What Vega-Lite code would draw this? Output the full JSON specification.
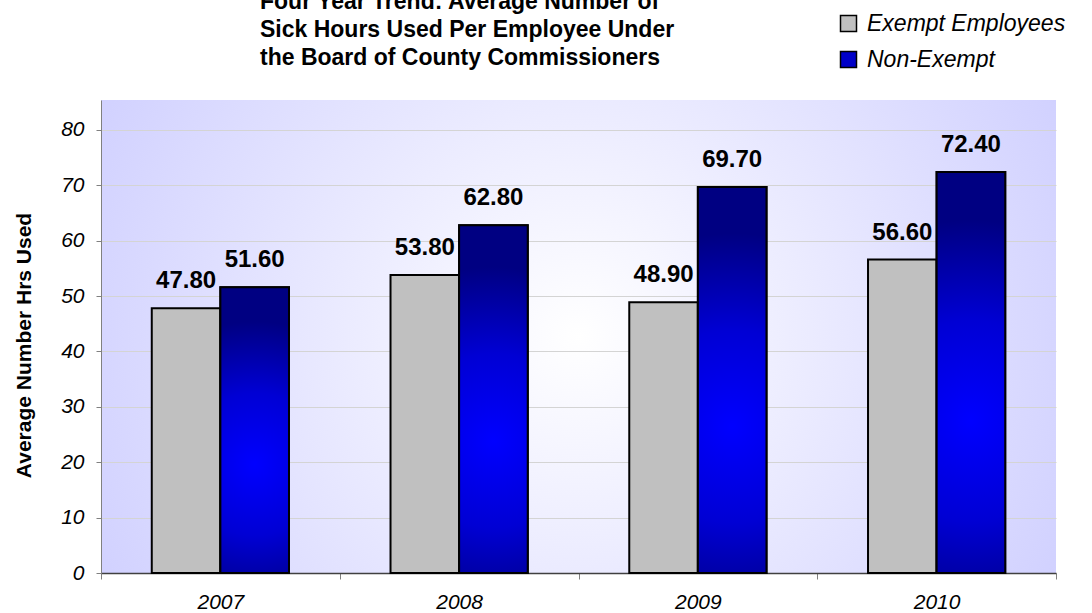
{
  "$schema": "https://vega.github.io/schema/vega-lite/v6.json",
  "width": 955,
  "height": 473,
  "autosize": {"type": "none"},
  "padding": {"top": 100, "left": 101, "right": 36, "bottom": 40},
  "background": "white",
  "title": {
    "text": ["Four Year Trend: Average Number of", "Sick Hours Used Per Employee Under", "the Board of County Commissioners"],
    "anchor": "start",
    "frame": "group",
    "align": "left",
    "baseline": "top",
    "dx": 159,
    "offset": -58,
    "font": "Liberation Sans",
    "fontSize": 23,
    "fontWeight": "bold",
    "lineHeight": 28,
    "color": "#000000"
  },
  "config": {
    "view": {
      "stroke": null,
      "fill": {
        "gradient": "radial",
        "x1": 0.5, "y1": 0.5, "r1": 0,
        "x2": 0.5, "y2": 0.5, "r2": 0.62,
        "stops": [
          {"offset": 0, "color": "#ffffff"},
          {"offset": 1, "color": "#ccccff"}
        ]
      }
    },
    "axis": {
      "labelFont": "Liberation Sans",
      "titleFont": "Liberation Sans"
    }
  },
  "data": {
    "values": [
      {"year": "2007", "group": "Exempt Employees", "hours": 47.8},
      {"year": "2007", "group": "Non-Exempt", "hours": 51.6},
      {"year": "2008", "group": "Exempt Employees", "hours": 53.8},
      {"year": "2008", "group": "Non-Exempt", "hours": 62.8},
      {"year": "2009", "group": "Exempt Employees", "hours": 48.9},
      {"year": "2009", "group": "Non-Exempt", "hours": 69.7},
      {"year": "2010", "group": "Exempt Employees", "hours": 56.6},
      {"year": "2010", "group": "Non-Exempt", "hours": 72.4}
    ]
  },
  "encoding": {
    "x": {
      "field": "year",
      "type": "nominal",
      "scale": {"paddingInner": 0, "paddingOuter": 0},
      "axis": {
        "title": null,
        "labelAngle": 0,
        "labelFontSize": 21,
        "labelFontStyle": "italic",
        "labelColor": "#000000",
        "labelPadding": 12,
        "tickBand": "extent",
        "tickSize": 6,
        "tickColor": "#808080",
        "domainColor": "#404040",
        "domainWidth": 1.5
      }
    },
    "xOffset": {
      "field": "group",
      "type": "nominal",
      "scale": {"domain": ["Exempt Employees", "Non-Exempt"], "paddingInner": 0, "paddingOuter": 0.74}
    },
    "y": {
      "field": "hours",
      "type": "quantitative",
      "scale": {"domain": [0, 85.4], "nice": false},
      "axis": {
        "title": "Average Number Hrs Used",
        "titleFontSize": 21,
        "titleFontWeight": "bold",
        "titleColor": "#000000",
        "titlePadding": 26,
        "titleY": 245,
        "values": [0, 10, 20, 30, 40, 50, 60, 70, 80],
        "labelFontSize": 21,
        "labelFontStyle": "italic",
        "labelColor": "#000000",
        "labelPadding": 12,
        "tickSize": 5,
        "tickColor": "#808080",
        "domainColor": "#808080",
        "gridColor": "#d4d4d4",
        "gridWidth": 1
      }
    }
  },
  "layer": [
    {
      "mark": {"type": "bar", "stroke": "#000000", "strokeWidth": 2},
      "encoding": {
        "color": {
          "field": "group",
          "type": "nominal",
          "scale": {"domain": ["Exempt Employees", "Non-Exempt"], "range": ["#c0c0c0", "#0000c8"]},
          "legend": {
            "title": null,
            "orient": "none",
            "legendX": 736,
            "legendY": -88,
            "symbolType": "square",
            "symbolSize": 256,
            "symbolStrokeColor": "#000000",
            "symbolStrokeWidth": 1.5,
            "symbolOpacity": 1,
            "labelFont": "Liberation Sans",
            "labelFontSize": 23,
            "labelFontStyle": "italic",
            "labelColor": "#000000",
            "labelOffset": 7,
            "labelLimit": 400,
            "rowPadding": 12
          }
        }
      }
    },
    {
      "transform": [{"filter": "datum.group === 'Non-Exempt'"}],
      "mark": {
        "type": "bar",
        "stroke": "#000000",
        "strokeWidth": 2,
        "fill": {
          "gradient": "radial",
          "x1": 0.5, "y1": 0.62, "r1": 0,
          "x2": 0.5, "y2": 0.62, "r2": 0.5,
          "stops": [
            {"offset": 0, "color": "#0000ff"},
            {"offset": 0.5, "color": "#0000d4"},
            {"offset": 1, "color": "#000082"}
          ]
        }
      }
    },
    {
      "mark": {
        "type": "text",
        "baseline": "alphabetic",
        "dy": -20,
        "font": "Liberation Sans",
        "fontSize": 24,
        "fontWeight": "bold",
        "color": "#000000"
      },
      "encoding": {
        "text": {"field": "hours", "type": "quantitative", "format": ".2f"}
      }
    }
  ]
}
